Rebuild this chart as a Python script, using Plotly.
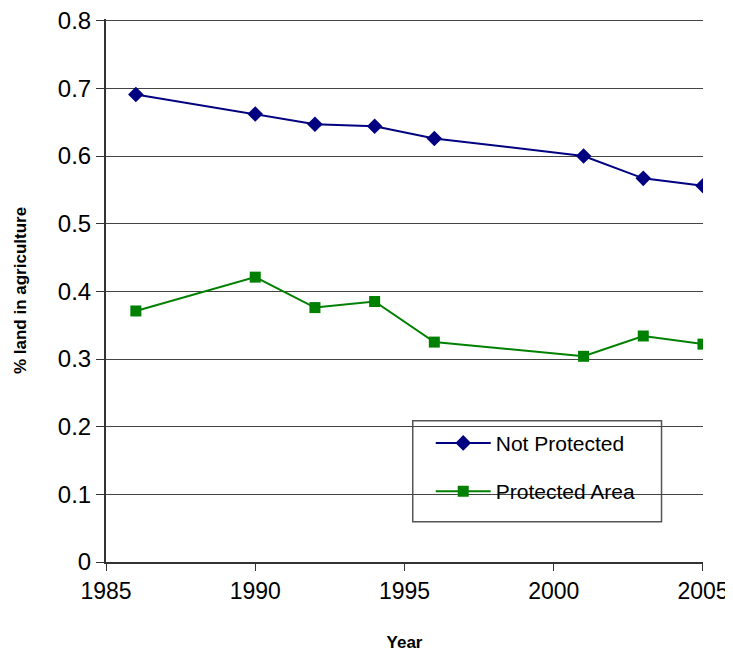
import plotly.graph_objects as go

years = [1986, 1990, 1992, 1994, 1996, 2001, 2003, 2005]
not_protected = [0.691, 0.662, 0.647, 0.644, 0.626, 0.600, 0.567, 0.556]
protected_area = [0.371, 0.421, 0.376, 0.385, 0.325, 0.304, 0.334, 0.322]
y_ticks = [0, 0.1, 0.2, 0.3, 0.4, 0.5, 0.6, 0.7, 0.8]
y_ticktext = ["0", "0.1", "0.2", "0.3", "0.4", "0.5", "0.6", "0.7", "0.8"]
x_ticks = [1985, 1990, 1995, 2000, 2005]

fig = go.Figure()
fig.add_trace(go.Scatter(x=years, y=not_protected, mode="lines+markers", name="Not Protected",
                         legendgroup="a",
                         line=dict(color="#000080", width=2),
                         marker=dict(symbol="diamond", size=12, color="#000080")))
fig.add_trace(go.Scatter(x=years, y=protected_area, mode="lines+markers", name="Protected Area",
                         legendgroup="b",
                         line=dict(color="#008000", width=2),
                         marker=dict(symbol="square", size=11, color="#008000")))

OFF = 8  # page body margin
W, H = 733 - OFF, 656 - OFF
YMAX = 0.8025
L, R, B = 106 - OFF, 703.5 - OFF, 562.3 - OFF
PER = (562.3 - 20.7) / 0.8  # px per unit
T = B - PER * YMAX
PW, PH = R - L, B - T

def px(xp):
    return (xp - OFF - L) / PW

def py(yp):
    return (B - (yp - OFF)) / PH

font = "Liberation Sans, Arial, sans-serif"
fig.add_shape(type="rect", xref="paper", yref="paper",
              x0=px(413), x1=px(662), y0=py(522), y1=py(421),
              fillcolor="white", line=dict(color="#555", width=1.5), layer="between")

fig.update_layout(
    width=W, height=H,
    margin=dict(l=L, r=W - R, t=T, b=H - B),
    plot_bgcolor="white", paper_bgcolor="white",
    font=dict(family=font, color="black"),
    xaxis=dict(range=[1985, 2005.001], tickvals=x_ticks, automargin=False,
               ticklabeloverflow="allow",
               showgrid=False, showline=True, linecolor="#333", linewidth=2,
               ticks="outside", ticklen=7, tickcolor="#333", tickfont=dict(size=23),
               title=dict(text="<b>Year</b>", font=dict(size=17), standoff=34),
               zeroline=False),
    yaxis=dict(range=[0, YMAX], tickvals=y_ticks, ticktext=y_ticktext, automargin=False,
               ticklabeloverflow="allow",
               showgrid=True, gridcolor="#444", gridwidth=1,
               showline=True, linecolor="#333", linewidth=2,
               ticks="outside", ticklen=8, tickcolor="#333", tickfont=dict(size=24),
               title=dict(text="<b>% land in agriculture</b>", font=dict(size=17), standoff=27),
               zeroline=False),
    legend=dict(x=px(431), y=py(423), xanchor="left", yanchor="top",
                bgcolor="rgba(0,0,0,0)", borderwidth=0, traceorder="grouped",
                font=dict(size=21), tracegroupgap=18, itemwidth=55),
    showlegend=True,
)
fig.write_html("out.html")
